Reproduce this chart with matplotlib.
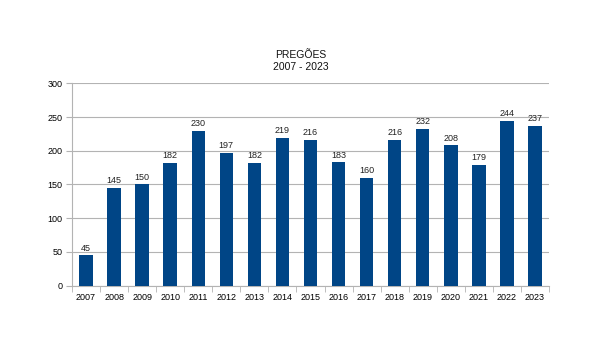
import matplotlib
matplotlib.use("Agg")
import matplotlib.pyplot as plt
import numpy as np

years = ["2007", "2008", "2009", "2010", "2011", "2012", "2013", "2014", "2015",
         "2016", "2017", "2018", "2019", "2020", "2021", "2022", "2023"]
values = [45, 145, 150, 182, 230, 197, 182, 219, 216, 183, 160, 216, 232, 208, 179, 244, 237]
yticks = [0, 50, 100, 150, 200, 250, 300]

plt.rcParams['font.family'] = ['Liberation Sans', 'DejaVu Sans']

fig = plt.figure(figsize=(6.03, 3.58), dpi=100)
ax = fig.add_axes([0.1194, 0.202, 0.791, 0.5653])

x = np.arange(len(years))
bars = ax.bar(x, values, width=0.48, color="#004586", zorder=3)
for xi, v in zip(x, values):
    ax.text(xi, v + 4, str(v), ha="center", va="bottom", fontsize=6.5, color="#222222")

ax.set_xlim(-0.5, len(years) - 0.5)
ax.set_ylim(0, 300)
ax.set_yticks(yticks)
ax.set_yticklabels([str(t) for t in yticks], fontsize=6.5)
ax.set_xticks(x)
ax.set_xticklabels(years, fontsize=6.5)
ax.set_xticks(np.arange(-0.5, len(years)), minor=True)
ax.tick_params(axis="x", which="major", length=0, pad=5)
ax.tick_params(axis="x", which="minor", length=4, color="#b3b3b3")
ax.tick_params(axis="y", length=4, color="#b3b3b3", pad=3)
ax.grid(axis="y", color="#b3b3b3", linewidth=0.8, zorder=0)
for s in ["top", "right"]:
    ax.spines[s].set_visible(False)
for s in ["left", "bottom"]:
    ax.spines[s].set_color("#b3b3b3")
    ax.spines[s].set_linewidth(0.8)

fig.text(0.4992, 1 - 55 / 358, "PREGÕES", ha="center", va="center", fontsize=7.5, color="#111111")
fig.text(0.4992, 1 - 67 / 358, "2007 - 2023", ha="center", va="center", fontsize=7.5, color="#111111")

fig.savefig("out.png", dpi=100)
